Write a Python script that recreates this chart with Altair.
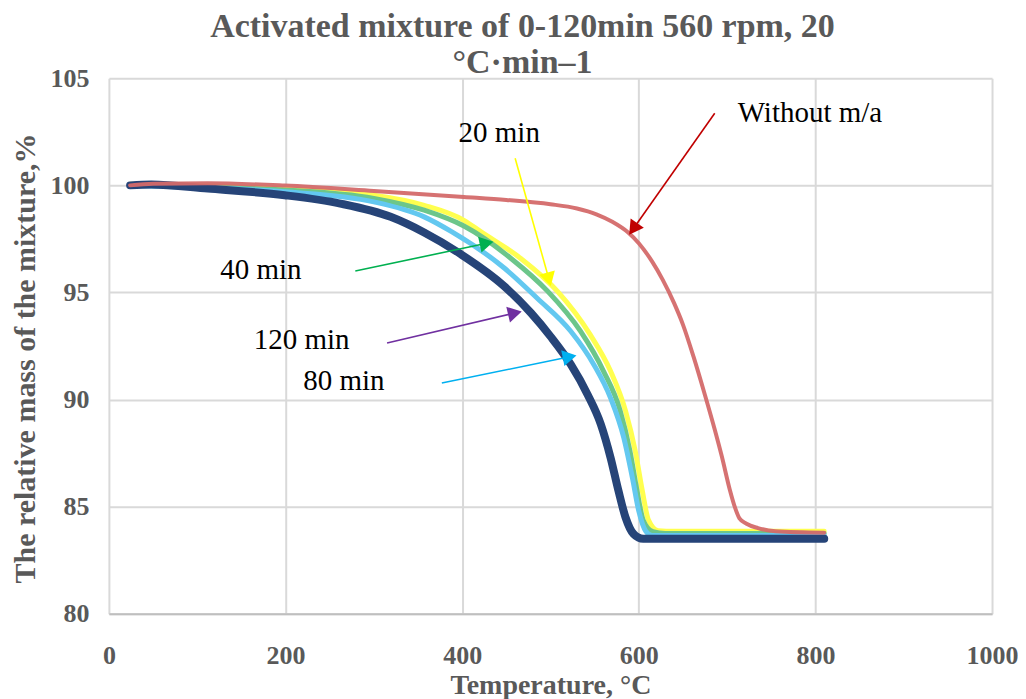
import math
import altair as alt
import pandas as pd

# ---------------- data ----------------
red_T = [24, 50, 112, 199, 300, 402, 450, 500, 530, 552, 570, 588, 600, 615, 627, 640, 650, 662, 675, 686, 694, 703, 709, 714, 722, 735, 755, 810]
red_M = [100.0, 100.08, 100.1, 99.99, 99.74, 99.46, 99.32, 99.12, 98.92, 98.65, 98.3, 97.8, 97.3, 96.45, 95.6, 94.5, 93.5, 92.0, 90.2, 88.6, 87.35, 85.8, 84.95, 84.45, 84.2, 84.0, 83.85, 83.78]

yel_T = [24, 199, 300, 357, 402, 421, 466, 508, 545, 568, 585, 596, 604, 611, 622, 640, 810]
yel_M = [100.05, 99.84, 99.54, 99.07, 98.37, 97.84, 96.6, 95.05, 93.03, 91.33, 89.47, 87.6, 85.74, 84.37, 83.88, 83.85, 83.85]

grn_T = [24, 199, 300, 357, 402, 455, 497, 534, 560, 579, 590, 598, 605, 616, 630, 810]
grn_M = [100.0, 99.78, 99.39, 98.84, 98.1, 96.6, 95.05, 93.19, 91.33, 89.47, 87.6, 85.74, 84.37, 83.83, 83.75, 83.75]

lbl_T = [24, 75, 199, 300, 357, 388, 448, 485, 523, 549, 568, 583, 593, 600, 608, 615, 810]
lbl_M = [100.0, 99.93, 99.7, 99.23, 98.53, 97.84, 96.13, 94.73, 93.19, 91.64, 90.08, 88.22, 86.3, 84.8, 83.85, 83.65, 83.65]

nav_T = [24, 48, 112, 199, 262, 319, 357, 398, 448, 478, 500, 523, 542, 557, 568, 577, 585, 594, 605, 810]
nav_M = [100.0, 100.04, 99.85, 99.54, 99.15, 98.53, 97.8, 96.8, 95.28, 94.04, 92.95, 91.64, 90.24, 88.85, 87.3, 85.74, 84.5, 83.73, 83.5, 83.5]

# annotations
ann_text = ["Without m/a", "20 min", "40 min", "120 min", "80 min"]
ann_text_T = [712, 396, 126, 164, 220]
ann_text_M = [103.37, 102.43, 96.04, 92.78, 90.87]
arr_start_T = [686, 460, 279, 315, 377]
arr_start_M = [103.37, 101.27, 96.0, 92.64, 90.77]
arr_tip_T = [590, 500, 434, 466, 528]
arr_tip_M = [97.75, 95.36, 97.35, 94.1, 92.05]
arr_colors = ["#C00000", "#FFFF00", "#00B050", "#7030A0", "#00B0F0"]

# ---------------- layout ----------------
W, H = 884, 536
X_DOM = [0, 1000]
Y_DOM = [80, 105]
sx = W / (X_DOM[1] - X_DOM[0])
sy = H / (Y_DOM[1] - Y_DOM[0])

x_scale = alt.Scale(domain=X_DOM, nice=False)
y_scale = alt.Scale(domain=Y_DOM, nice=False, zero=False)

FONT = "Liberation Serif"
GRAY = "#595959"

x_axis = alt.Axis(values=[0, 200, 400, 600, 800, 1000], format="d", grid=True, gridColor="#D9D9D9", gridWidth=2,
                  domainColor="#BFBFBF", domainWidth=2, ticks=False, labelPadding=29, labelFlush=False,
                  labelFont=FONT, labelFontSize=26, labelFontWeight="bold", labelColor=GRAY,
                  titleFont=FONT, titleFontSize=28, titleFontWeight="bold", titleColor=GRAY,
                  titleY=72, titleBaseline="middle")
y_axis = alt.Axis(values=[80, 85, 90, 95, 100, 105], grid=True, gridColor="#D9D9D9", gridWidth=2,
                  domain=False, ticks=False, labelPadding=20,
                  labelFont=FONT, labelFontSize=26, labelFontWeight="bold", labelColor=GRAY,
                  titleFont=FONT, titleFontSize=30, titleFontWeight="bold", titleColor=GRAY,
                  titleX=-83, titleY=280, titleAngle=-90, titleBaseline="middle", titleAlign="center")


def line_layer(T, M, color, width, opacity=1.0):
    df = pd.DataFrame({"T": T, "M": M})
    return alt.Chart(df).mark_line(color=color, strokeWidth=width, interpolate="monotone",
                                   strokeCap="round", strokeJoin="round", opacity=opacity).encode(
        x=alt.X("T:Q", scale=x_scale, axis=x_axis, title="Temperature, °C"),
        y=alt.Y("M:Q", scale=y_scale, axis=y_axis, title="The relative mass of the mixture,%"),
    )


lines = [
    line_layer(yel_T, yel_M, "#FFFF4F", 5),
    line_layer(grn_T, grn_M, "#6CC68A", 5),
    line_layer(lbl_T, lbl_M, "#63C8F0", 5),
    line_layer(nav_T, nav_M, "#264478", 8),
    line_layer(red_T, red_M, "#D46A6A", 4, 0.95),
]

# arrows
rows = []
BACK = 8.0
for i in range(len(ann_text)):
    dx = (arr_tip_T[i] - arr_start_T[i]) * sx
    dy = (arr_tip_M[i] - arr_start_M[i]) * sy
    L = math.hypot(dx, dy)
    ux, uy = dx / L, dy / L
    hT = arr_tip_T[i] - ux * BACK / sx
    hM = arr_tip_M[i] - uy * BACK / sy
    ang = math.degrees(math.atan2(dx, dy)) % 360
    rows.append({"sT": arr_start_T[i], "sM": arr_start_M[i], "hT": hT, "hM": hM,
                 "angle": ang, "color": arr_colors[i],
                 "label": ann_text[i], "lT": ann_text_T[i], "lM": ann_text_M[i]})
adf = pd.DataFrame(rows)

arrow_lines = alt.Chart(adf).mark_rule(strokeWidth=1.6).encode(
    x=alt.X("sT:Q", scale=x_scale), y=alt.Y("sM:Q", scale=y_scale),
    x2="hT:Q", y2="hM:Q", color=alt.Color("color:N", scale=None))
arrow_heads = alt.Chart(adf).mark_point(shape="triangle", filled=True, size=260, opacity=1).encode(
    x=alt.X("hT:Q", scale=x_scale), y=alt.Y("hM:Q", scale=y_scale),
    angle=alt.Angle("angle:Q", scale=None), color=alt.Color("color:N", scale=None))
labels = alt.Chart(adf).mark_text(align="left", baseline="middle", font=FONT, fontSize=29, color="#000000").encode(
    x=alt.X("lT:Q", scale=x_scale), y=alt.Y("lM:Q", scale=y_scale), text="label:N")

chart = alt.layer(*lines, arrow_lines, arrow_heads, labels).properties(
    width=W, height=H,
    autosize=alt.AutoSizeParams(type="none"),
    padding={"left": 101, "top": 70, "right": 26, "bottom": 86},
    title=alt.TitleParams(text=["Activated mixture of 0-120min 560 rpm, 20", "°C·min–1"],
                          font=FONT, fontSize=34, fontWeight="bold", color=GRAY,
                          anchor="middle", dx=-28, dy=21, offset=6, lineHeight=36),
).configure_view(stroke=None)

chart.save("out.html", embed_options={"renderer": "svg", "actions": False})
